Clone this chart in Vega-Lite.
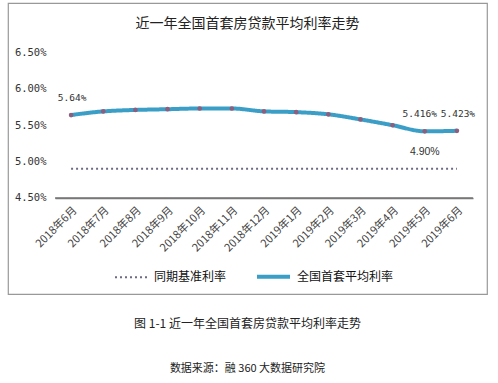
{
  "$schema": "https://vega.github.io/schema/vega-lite/v6.json",
  "background": "white",
  "padding": {"left": 7, "top": 2, "right": 11, "bottom": 0},
  "title": {
    "text": "图 1-1  近一年全国首套房贷款平均利率走势",
    "subtitle": "数据来源：融 360 大数据研究院",
    "orient": "bottom",
    "anchor": "middle",
    "offset": 24,
    "font": "Noto Sans CJK SC",
    "fontSize": 12,
    "fontWeight": "normal",
    "color": "#222222",
    "subtitleFont": "Noto Sans CJK SC",
    "subtitleFontSize": 11,
    "subtitleColor": "#222222",
    "subtitlePadding": 32
  },
  "datasets": {
    "rates": [
      {"month": "2018年6月", "series": "全国首套平均利率", "value": 5.64},
      {"month": "2018年7月", "series": "全国首套平均利率", "value": 5.69},
      {"month": "2018年8月", "series": "全国首套平均利率", "value": 5.71},
      {"month": "2018年9月", "series": "全国首套平均利率", "value": 5.72},
      {"month": "2018年10月", "series": "全国首套平均利率", "value": 5.73},
      {"month": "2018年11月", "series": "全国首套平均利率", "value": 5.73},
      {"month": "2018年12月", "series": "全国首套平均利率", "value": 5.69},
      {"month": "2019年1月", "series": "全国首套平均利率", "value": 5.68},
      {"month": "2019年2月", "series": "全国首套平均利率", "value": 5.65},
      {"month": "2019年3月", "series": "全国首套平均利率", "value": 5.58},
      {"month": "2019年4月", "series": "全国首套平均利率", "value": 5.5},
      {"month": "2019年5月", "series": "全国首套平均利率", "value": 5.416},
      {"month": "2019年6月", "series": "全国首套平均利率", "value": 5.423},
      {"month": "2018年6月", "series": "同期基准利率", "value": 4.9},
      {"month": "2018年7月", "series": "同期基准利率", "value": 4.9},
      {"month": "2018年8月", "series": "同期基准利率", "value": 4.9},
      {"month": "2018年9月", "series": "同期基准利率", "value": 4.9},
      {"month": "2018年10月", "series": "同期基准利率", "value": 4.9},
      {"month": "2018年11月", "series": "同期基准利率", "value": 4.9},
      {"month": "2018年12月", "series": "同期基准利率", "value": 4.9},
      {"month": "2019年1月", "series": "同期基准利率", "value": 4.9},
      {"month": "2019年2月", "series": "同期基准利率", "value": 4.9},
      {"month": "2019年3月", "series": "同期基准利率", "value": 4.9},
      {"month": "2019年4月", "series": "同期基准利率", "value": 4.9},
      {"month": "2019年5月", "series": "同期基准利率", "value": 4.9},
      {"month": "2019年6月", "series": "同期基准利率", "value": 4.9}
    ],
    "labels": [
      {"month": "2018年6月", "value": 5.64, "label": "5.64%"},
      {"month": "2019年5月", "value": 5.416, "label": "5.416%"},
      {"month": "2019年6月", "value": 5.423, "label": "5.423%"},
      {"month": "2019年5月", "value": 4.9, "label": "4.90%"}
    ],
    "axisline": [{"from": "2018年6月", "to": "2019年6月", "level": 4.5}]
  },
  "vconcat": [
    {
      "width": 479,
      "height": 291,
      "title": {
        "text": "近一年全国首套房贷款平均利率走势",
        "anchor": "middle",
        "offset": -28,
        "font": "Noto Sans CJK SC",
        "fontSize": 14,
        "fontWeight": "normal",
        "color": "#222222"
      },
      "encoding": {
        "x": {
          "field": "month",
          "type": "ordinal",
          "bandPosition": 0.5,
          "scale": {
            "type": "band",
            "range": [47, 465],
            "paddingInner": 0,
            "paddingOuter": 0,
            "domain": ["2018年6月", "2018年7月", "2018年8月", "2018年9月", "2018年10月", "2018年11月", "2018年12月", "2019年1月", "2019年2月", "2019年3月", "2019年4月", "2019年5月", "2019年6月"]
          },
          "axis": {
            "title": null,
            "offset": -96,
            "labelAngle": -45,
            "labelAlign": "right",
            "labelBaseline": "top",
            "labelPadding": 6,
            "domain": true,
            "domainColor": "#777777",
            "domainWidth": 1.5,
            "ticks": false,
            "grid": false,
            "zindex": 1,
            "labelFont": "Noto Sans CJK SC",
            "labelFontSize": 11,
            "labelColor": "#444444"
          }
        },
        "y": {
          "field": "value",
          "type": "quantitative",
          "scale": {"domain": [3.18, 7.18], "nice": false, "zero": false},
          "axis": {
            "title": null,
            "offset": -46,
            "values": [4.5, 5, 5.5, 6, 6.5],
            "labelExpr": "format(datum.value, '.2f') + '%'",
            "labelPadding": 8,
            "domain": false,
            "ticks": false,
            "grid": false,
            "labelFont": "DejaVu Sans Mono",
            "labelFontSize": 10.5,
            "labelColor": "#333333"
          }
        }
      },
      "layer": [
        {
          "data": {"name": "axisline"},
          "mark": {"type": "rule", "color": "#777777", "strokeWidth": 1.5, "xOffset": -16, "x2Offset": 16},
          "encoding": {
            "x": {"field": "from", "type": "ordinal"},
            "x2": {"field": "to"},
            "y": {"field": "level", "type": "quantitative"}
          }
        },
        {
          "data": {"name": "rates"},
          "mark": {"type": "line", "interpolate": "monotone"},
          "encoding": {
            "color": {
              "field": "series",
              "type": "nominal",
              "scale": {"domain": ["同期基准利率", "全国首套平均利率"], "range": ["#6e6a84", "#3a9ec6"]},
              "legend": {
                "title": null,
                "orient": "none",
                "legendX": 106,
                "legendY": 255,
                "direction": "horizontal",
                "symbolType": "stroke",
                "symbolSize": 1089,
                "columnPadding": 22,
                "labelOffset": 5,
                "padding": 0,
                "labelFont": "Noto Sans CJK SC",
                "labelFontSize": 12,
                "labelColor": "#111111"
              }
            },
            "strokeDash": {
              "field": "series",
              "type": "nominal",
              "scale": {"domain": ["同期基准利率", "全国首套平均利率"], "range": [[2, 3], [1, 0]]}
            },
            "strokeWidth": {
              "field": "series",
              "type": "nominal",
              "scale": {"domain": ["同期基准利率", "全国首套平均利率"], "range": [2, 4]}
            }
          }
        },
        {
          "data": {"name": "rates"},
          "transform": [{"filter": "datum.series === '全国首套平均利率'"}],
          "mark": {"type": "point", "filled": true, "color": "#8a5f80", "size": 22, "opacity": 1}
        },
        {
          "data": {"name": "labels"},
          "transform": [{"filter": "datum.label === '5.64%' || datum.label === '5.423%'"}],
          "mark": {"type": "text", "dy": -17, "dx": 1, "font": "DejaVu Sans Mono", "fontSize": 9.5, "color": "#333333"},
          "encoding": {"text": {"field": "label"}}
        },
        {
          "data": {"name": "labels"},
          "transform": [{"filter": "datum.label === '5.416%'"}],
          "mark": {"type": "text", "dy": -17, "dx": -5, "font": "DejaVu Sans Mono", "fontSize": 9.5, "color": "#333333"},
          "encoding": {"text": {"field": "label"}}
        },
        {
          "data": {"name": "labels"},
          "transform": [{"filter": "datum.label === '4.90%'"}],
          "mark": {"type": "text", "dy": -17, "font": "Liberation Sans", "fontSize": 10.5, "color": "#333333"},
          "encoding": {"text": {"field": "label"}}
        }
      ]
    }
  ],
  "config": {
    "view": {"stroke": "#999999", "strokeWidth": 1.2}
  }
}
